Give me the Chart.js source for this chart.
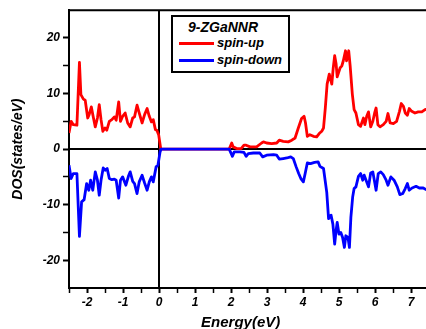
<!DOCTYPE html>
<html>
<head>
<meta charset="utf-8">
<script src="https://cdn.jsdelivr.net/npm/chart.js@4.4.1/dist/chart.umd.min.js"></script>
<style>
    html, body { margin: 0; padding: 0; background: #fff; overflow: hidden; }
    #wrap { position: relative; width: 432px; height: 332px; }
    #legend {
        position: absolute; left: 171px; top: 15px; width: 115px; height: 54px;
        border: 2px solid #000; background: #fff;
        font-family: "Liberation Sans", Arial, sans-serif; font-weight: bold; font-style: italic;
        color: #000;
    }
    #legend .ttl { position: absolute; left: 15px; top: 2px; font-size: 14px; line-height: 16px; }
    #legend .swatch { position: absolute; left: 6px; width: 35px; height: 3px; }
    #legend .lbl { position: absolute; left: 44px; font-size: 13px; line-height: 16px; }
</style>
</head>
<body>
<div id="wrap">
    <canvas id="dos-chart" width="432" height="332"></canvas>
    <div id="legend">
        <div class="ttl">9-ZGaNNR</div>
        <div class="swatch" style="top:25px; background:#ff0000;"></div>
        <div class="lbl" style="top:18px;">spin-up</div>
        <div class="swatch" style="top:42px; background:#0000ff;"></div>
        <div class="lbl" style="top:35px;">spin-down</div>
    </div>
</div>
<script>
// DOS data (energy in eV, DOS in states/eV)
const upEnergy = [-2.5, -2.44, -2.38, -2.28, -2.21, -2.17, -2.10, -2.05, -1.98, -1.94, -1.88, -1.83, -1.77, -1.71,
    -1.66, -1.61, -1.56, -1.50, -1.45, -1.38, -1.31, -1.24, -1.19, -1.12, -1.07, -1.01, -0.94, -0.87, -0.80, -0.73,
    -0.68, -0.61, -0.55, -0.47, -0.40, -0.33, -0.27, -0.21, -0.16, -0.10, -0.06, -0.01, 0.05, 1.95, 2.02, 2.06,
    2.16, 2.28, 2.36, 2.42, 2.53, 2.62, 2.71, 2.85, 2.90, 2.99, 3.13, 3.27, 3.34, 3.45, 3.59, 3.69, 3.78, 3.87,
    3.96, 4.03, 4.07, 4.12, 4.19, 4.29, 4.38, 4.45, 4.52, 4.57, 4.62, 4.67, 4.73, 4.80, 4.84, 4.88, 4.92, 4.95,
    5.03, 5.08, 5.12, 5.18, 5.21, 5.27, 5.31, 5.37, 5.42, 5.47, 5.54, 5.60, 5.68, 5.72, 5.77, 5.82, 5.88, 5.94,
    5.99, 6.03, 6.08, 6.14, 6.23, 6.31, 6.36, 6.42, 6.51, 6.60, 6.68, 6.73, 6.79, 6.84, 6.90, 6.95, 7.02, 7.11,
    7.20, 7.30, 7.39, 7.5];
const upDos = [2.9, 5.0, 4.4, 4.3, 15.6, 9.8, 9.0, 8.8, 5.6, 6.2, 7.6, 5.9, 4.0, 5.6,
    8.0, 5.3, 3.2, 3.8, 3.4, 5.0, 5.3, 5.8, 5.2, 8.5, 5.0, 5.9, 6.5, 4.7, 4.0, 5.6,
    5.8, 7.9, 6.5, 4.7, 6.2, 7.3, 5.9, 4.9, 5.3, 3.5, 3.4, 2.6, 0, 0, 1.1, 0.4,
    0.1, 0.1, 0.7, 0.7, 0.4, 0.4, 0.4, 1.1, 1.3, 1.1, 1.0, 1.1, 1.6, 1.4, 1.3, 1.6, 2.0, 3.8,
    5.5, 5.9, 4.7, 2.3, 2.6, 2.3, 2.2, 2.8, 3.2, 3.8, 7.4, 11.7, 13.5, 11.7, 14.6, 16.8, 15.3, 13.0,
    14.6, 15.0, 15.9, 17.7, 15.9, 17.7, 15.0, 9.9, 7.1, 6.5, 4.4, 4.1, 5.6, 4.4, 5.9, 6.7, 4.0, 5.0,
    6.5, 7.4, 4.4, 4.0, 4.4, 5.0, 6.4, 4.7, 4.6, 5.0, 6.8, 8.2, 7.7, 6.5, 6.1, 7.3, 6.8, 6.5,
    6.7, 6.7, 7.1, 7.3];

const downEnergy = [-2.5, -2.44, -2.38, -2.28, -2.21, -2.15, -2.08, -2.01, -1.95, -1.90, -1.84, -1.77, -1.71,
    -1.66, -1.61, -1.55, -1.49, -1.44, -1.38, -1.31, -1.24, -1.19, -1.12, -1.07, -1.01, -0.92, -0.85, -0.80,
    -0.73, -0.68, -0.61, -0.55, -0.47, -0.40, -0.33, -0.27, -0.21, -0.16, -0.08, -0.03, 0.03, 0.06, 1.95,
    2.04, 2.09, 2.25, 2.36, 2.42, 2.48, 2.62, 2.71, 2.80, 2.88, 2.99, 3.18, 3.27, 3.34, 3.45, 3.55, 3.66,
    3.73, 3.81, 3.88, 3.94, 4.01, 4.06, 4.12, 4.21, 4.32, 4.42, 4.47, 4.57, 4.66, 4.71, 4.78, 4.83, 4.88,
    4.92, 4.95, 5.00, 5.05, 5.10, 5.15, 5.19, 5.25, 5.29, 5.33, 5.38, 5.42, 5.47, 5.54, 5.60, 5.66, 5.70,
    5.77, 5.82, 5.88, 5.94, 5.99, 6.03, 6.09, 6.16, 6.23, 6.31, 6.36, 6.44, 6.53, 6.62, 6.69, 6.77, 6.84,
    6.90, 6.95, 7.03, 7.14, 7.23, 7.34, 7.42, 7.5];
const downDos = [-2.9, -5.3, -4.4, -4.4, -15.7, -9.5, -9.1, -6.2, -7.4, -5.6, -7.4, -4.1, -5.6,
    -8.3, -5.6, -3.4, -3.8, -3.5, -5.3, -5.5, -5.4, -5.6, -8.8, -5.6, -5.0, -6.5, -4.9, -4.1,
    -5.8, -6.2, -8.0, -5.9, -4.7, -6.1, -7.4, -5.9, -5.0, -5.9, -3.2, -2.9, -0.5, 0, 0,
    -1.3, -0.5, -0.5, -0.6, -1.3, -0.8, -0.7, -0.7, -0.7, -1.4, -1.1, -1.0, -1.1, -1.8, -1.7, -1.6, -1.4,
    -1.7, -3.2, -4.4, -5.3, -5.9, -4.4, -2.5, -2.6, -2.4, -2.3, -3.1, -3.5, -7.8, -12.5, -11.9, -13.5, -17.1,
    -14.6, -13.2, -15.3, -15.0, -15.9, -17.7, -15.6, -15.9, -17.7, -12.3, -8.6, -7.1, -6.8, -4.9, -4.4, -5.6, -4.7,
    -5.9, -6.8, -4.3, -4.1, -5.9, -7.4, -4.4, -4.1, -4.6, -5.6, -6.5, -5.0, -5.6, -6.8, -8.2, -8.0, -7.1,
    -6.2, -7.4, -7.0, -6.7, -7.0, -7.0, -7.3, -7.4];

const xLabels = [-2, -1, 0, 1, 2, 3, 4, 5, 6, 7];
const yLabels = [-20, -10, 0, 10, 20];

const font = { family: '"Liberation Sans", Arial, sans-serif', weight: 'bold', style: 'italic' };

// zero lines under the data, top edge of the frame over it
const frameLines = {
    id: 'frameLines',
    beforeDatasetsDraw(chart) {
        const { ctx, chartArea: a, scales: { x, y } } = chart;
        const x0 = x.getPixelForValue(0);
        const y0 = y.getPixelForValue(0);
        ctx.save();
        ctx.strokeStyle = '#000';
        ctx.lineWidth = 2;
        ctx.beginPath();
        ctx.moveTo(a.left, y0);
        ctx.lineTo(a.right, y0);
        ctx.moveTo(x0, a.top);
        ctx.lineTo(x0, a.bottom);
        ctx.stroke();
        ctx.restore();
    },
    afterDatasetsDraw(chart) {
        const { ctx, chartArea: a } = chart;
        ctx.save();
        ctx.strokeStyle = '#000';
        ctx.lineWidth = 2;
        ctx.beginPath();
        ctx.moveTo(a.left, a.top);
        ctx.lineTo(a.right, a.top);
        ctx.lineTo(a.right, a.bottom);
        ctx.stroke();
        ctx.restore();
    }
};

new Chart(document.getElementById('dos-chart'), {
    type: 'scatter',
    data: {
        datasets: [
            {
                label: 'spin-up',
                data: upEnergy.map((e, i) => ({ x: e, y: upDos[i] })),
                borderColor: '#ff0000',
                borderWidth: 2.8,
                borderJoinStyle: 'round',
                showLine: true,
                pointRadius: 0,
                order: 1
            },
            {
                label: 'spin-down',
                data: downEnergy.map((e, i) => ({ x: e, y: downDos[i] })),
                borderColor: '#0000ff',
                borderWidth: 2.8,
                borderJoinStyle: 'round',
                showLine: true,
                pointRadius: 0,
                order: 0
            }
        ]
    },
    options: {
        responsive: false,
        animation: false,
        layout: { padding: { top: 9, right: 3, left: 0, bottom: 0 } },
        plugins: { legend: { display: false }, tooltip: { enabled: false } },
        scales: {
            x: {
                type: 'linear',
                min: -2.5,
                max: 7.5,
                afterFit: s => { s.height = 44; },
                border: { display: true, color: '#000', width: 2 },
                grid: {
                    drawOnChartArea: false,
                    drawTicks: true,
                    tickLength: 5,
                    tickColor: '#000',
                    tickWidth: c => (xLabels.includes(c.tick.value) ? 2 : 1.5)
                },
                ticks: {
                    stepSize: 0.5,
                    autoSkip: false,
                    maxRotation: 0,
                    padding: 2,
                    color: '#000',
                    font: { ...font, size: 12 },
                    callback: v => (xLabels.includes(v) ? String(v) : '')
                },
                title: {
                    display: true,
                    text: 'Energy(eV)    ',
                    color: '#000',
                    font: { ...font, size: 15 },
                    padding: { top: 0, bottom: 0 }
                }
            },
            y: {
                min: -25,
                max: 25,
                afterFit: s => { s.width = 69; },
                border: { display: true, color: '#000', width: 2 },
                grid: {
                    drawOnChartArea: false,
                    drawTicks: true,
                    tickLength: 6,
                    tickColor: c => (Math.abs(c.tick.value) === 25 ? 'rgba(0,0,0,0)' : '#000'),
                    tickWidth: c => (yLabels.includes(c.tick.value) ? 2 : 1.5)
                },
                ticks: {
                    stepSize: 5,
                    padding: 3,
                    color: '#000',
                    font: { ...font, size: 12 },
                    callback: v => (yLabels.includes(v) ? String(v) : '')
                },
                title: {
                    display: true,
                    text: 'DOS(states/eV)',
                    color: '#000',
                    font: { ...font, size: 14 },
                    padding: { top: 10, bottom: 10 }
                }
            }
        }
    },
    plugins: [frameLines]
});
</script>
</body>
</html>
